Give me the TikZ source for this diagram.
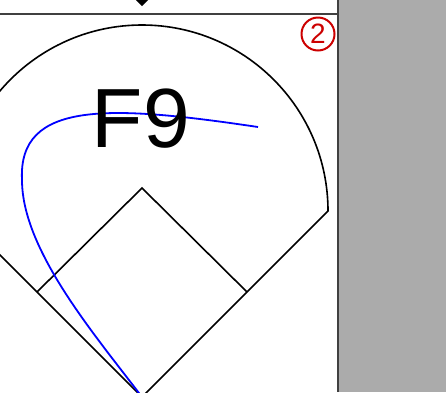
\documentclass[tikz,border=0pt]{standalone}
\usepackage{fontspec}
\setmainfont{Liberation Sans}
\begin{document}
\begin{tikzpicture}[x=1pt,y=-1pt,
  fieldline/.style={black,line width=1.6pt},
  frameline/.style={line width=2pt,draw=black!75},
  hitpath/.style={blue,line width=1.8pt}]
\useasboundingbox (0,0) rectangle (446,392);
% grey side panel
\fill[black!33] (339,0) rectangle (446,392);
\draw[frameline] (338,0) -- (338,392);
\draw[frameline] (0,14) -- (338,14);
% top marker
\fill[black] (136,0) -- (142,6) -- (148,0) -- (142,-6) -- cycle;
\begin{scope}
\clip (0,15) rectangle (337,392);
% coordinates
\coordinate (home) at (142,397);
\coordinate (first) at (247,292);
\coordinate (second) at (142,188);
\coordinate (third) at (37,292);
\coordinate (rcorner) at (328,211);
\coordinate (lcorner) at (-44,211);
% foul lines and outfield fence
\draw[fieldline] (lcorner) -- (home) -- (rcorner) arc[start angle=0,end angle=180,radius=186pt];
% infield diamond
\draw[fieldline] (third) -- (second) -- (first);
% batted ball path
\coordinate (hitstart) at (258,127);
\coordinate (hitturn) at (22,180);
\draw[hitpath] (hitstart) .. controls (110,105) and (18,100) .. (hitturn)
  .. controls (22,250) and (95,335) .. (home);
\end{scope}
\node[font=\fontsize{84}{84}\selectfont,inner sep=0pt,anchor=base] (label) at (141,147) {F9};
\node[circle,draw=red!80!black,line width=2pt,text=red!80!black,minimum size=33pt,inner sep=0pt,font=\fontsize{28}{28}\selectfont] (num) at (318,34) {2};
\end{tikzpicture}
\end{document}
